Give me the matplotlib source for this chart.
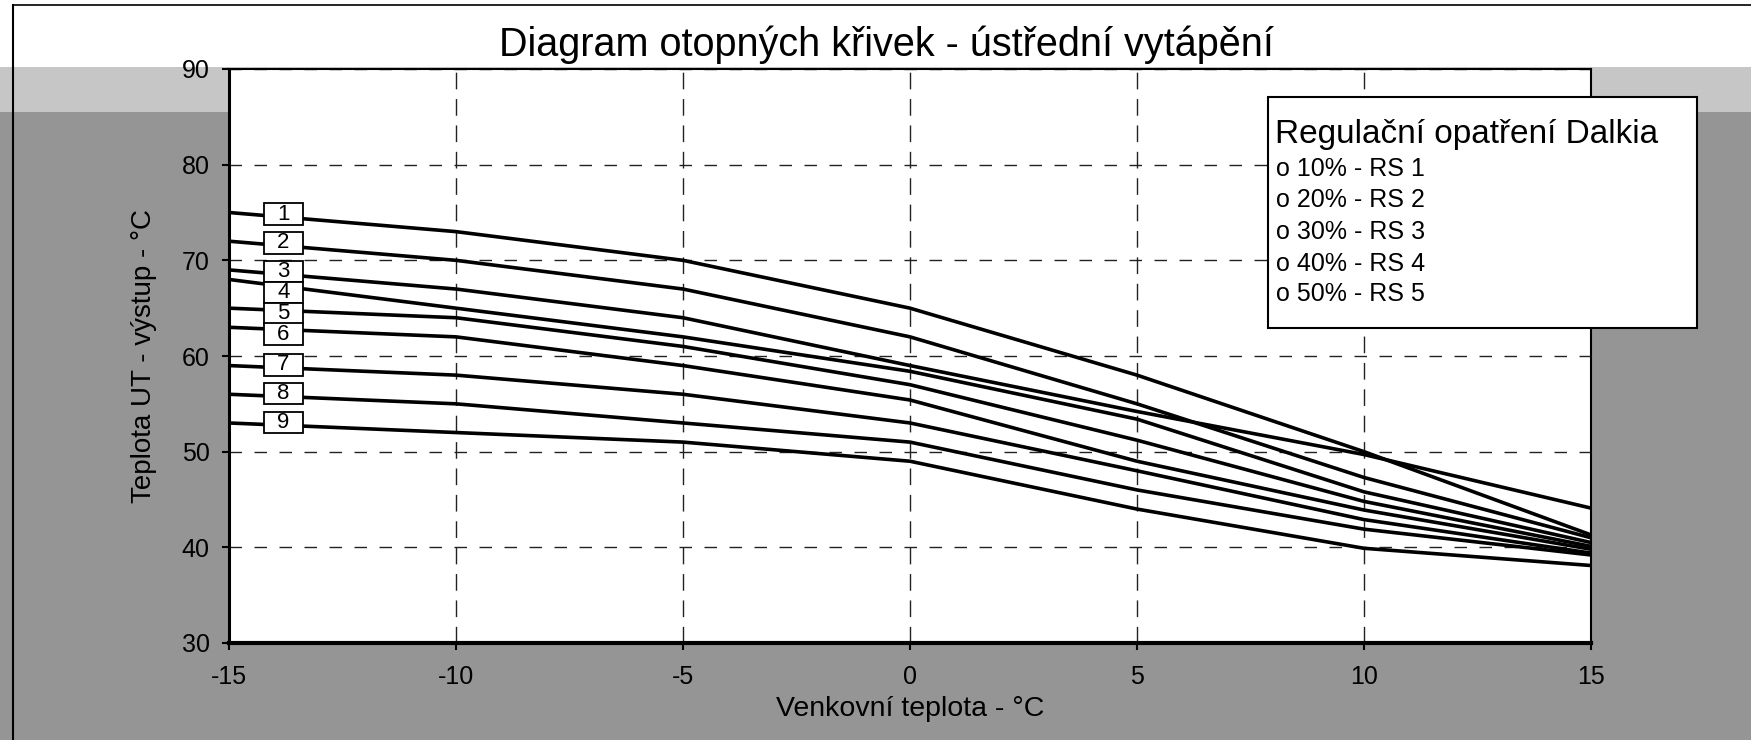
import numpy as np
import matplotlib
matplotlib.use('Agg')
import matplotlib.pyplot as plt
from matplotlib.patches import Rectangle

plt.rcParams['font.family'] = ['Liberation Sans', 'DejaVu Sans']
plt.rcParams['axes.unicode_minus'] = False

# outdoor temperature (x) and supply temperature for each curve
temp = [-15, -10, -5, 0, 5, 10, 15]
rs_1 = [75, 73, 70, 65, 58.0, 50.0, 41.3]
rs_2 = [72, 70, 67, 62, 55.0, 47.3, 41.0]
rs_3 = [69, 67, 64, 59, 54.2, 49.7, 44.1]
rs_4 = [68, 65, 62, 58.4, 53.4, 45.8, 40.5]
rs_5 = [65, 64, 61, 57, 51.2, 44.8, 40.1]
rs_6 = [63, 62, 59, 55.4, 49.0, 43.9, 39.8]
rs_7 = [59, 58, 56, 53, 48.0, 42.9, 39.4]
rs_8 = [56, 55, 53, 51, 46.0, 41.9, 39.2]
rs_9 = [53, 52, 51, 49, 44.0, 39.9, 38.1]
curves = [rs_1, rs_2, rs_3, rs_4, rs_5, rs_6, rs_7, rs_8, rs_9]
curve_labels = ['1', '2', '3', '4', '5', '6', '7', '8', '9']

x_ticks = [-15, -10, -5, 0, 5, 10, 15]
y_ticks = [30, 40, 50, 60, 70, 80, 90]

title = 'Diagram otopných křivek - ústřední vytápění'
x_label = 'Venkovní teplota - °C'
y_label = 'Teplota UT - výstup - °C'
legend_title = 'Regulační opatření Dalkia'
legend_items = ['o 10% - RS 1', 'o 20% - RS 2', 'o 30% - RS 3',
                'o 40% - RS 4', 'o 50% - RS 5']

W, H = 1751, 740
fig = plt.figure(figsize=(W / 100, H / 100), dpi=100, facecolor='#959595')

# scanned page: white strip on top, lighter band under it, frame lines
fig.add_artist(Rectangle((0, 1 - 67 / H), 1, 67 / H, transform=fig.transFigure,
                         facecolor='white', edgecolor='none', zorder=-10))
fig.add_artist(Rectangle((0, 1 - 112 / H), 1, 45 / H, transform=fig.transFigure,
                         facecolor='#c6c6c6', edgecolor='none', zorder=-10))
fig.add_artist(plt.Line2D([13 / W, 13 / W], [0, 1 - 5 / H], transform=fig.transFigure,
                          color='black', lw=1.5, zorder=-5))
fig.add_artist(plt.Line2D([13 / W, 1], [1 - 5 / H, 1 - 5 / H], transform=fig.transFigure,
                          color='black', lw=1.2, zorder=-5))

ax = fig.add_axes([229 / W, 1 - 643 / H, (1591 - 229) / W, (643 - 69) / H])
ax.set_facecolor('white')

for vals in curves:
    ax.plot(temp, vals, color='black', lw=2.6, solid_joinstyle='round', zorder=2)

ax.set_xlim(-15, 15)
ax.set_ylim(30, 90)
ax.set_xticks(x_ticks)
ax.set_yticks(y_ticks)
ax.xaxis.grid(True, color='#222222', lw=1.0, linestyle=(0, (12, 7)))
ax.yaxis.grid(True, color='#222222', lw=1.0, linestyle=(0, (9, 9)))
ax.set_axisbelow(True)

ax.spines['left'].set_linewidth(2.2)
ax.spines['bottom'].set_linewidth(3)
ax.spines['top'].set_linewidth(1.5)
ax.spines['right'].set_linewidth(1.5)
ax.tick_params(axis='both', direction='out', length=5, width=1.5, color='black')
ax.tick_params(axis='y', labelsize=18, pad=9)
ax.tick_params(axis='x', labelsize=18, pad=11)

ax.set_xlabel(x_label, fontsize=20.5, labelpad=5)
ax.set_ylabel(y_label, fontsize=20, labelpad=18)

# numbered boxes on the curves near the left edge
label_x = -13.8
box_w, box_h = 0.85, 2.25
label_y = [float(np.interp(label_x, temp, c)) + 0.3 for c in curves]
for i in range(1, len(label_y)):
    label_y[i] = min(label_y[i], label_y[i - 1] - box_h * 0.97)
for lab, y in zip(curve_labels, label_y):
    ax.add_patch(Rectangle((label_x - box_w / 2, y - box_h / 2), box_w, box_h,
                           facecolor='white', edgecolor='black', lw=1.3, zorder=3))
    ax.text(label_x, y, lab, ha='center', va='center', fontsize=16, zorder=4)

fig.text(886 / W, 1 - 45 / H, title, ha='center', va='center', fontsize=28.5)

# text box in the upper right
fig.add_artist(Rectangle((1268 / W, 1 - 328 / H), (1697 - 1268) / W, (328 - 97) / H,
                         transform=fig.transFigure, facecolor='white',
                         edgecolor='black', lw=1.5, zorder=5))
fig.text(1275 / W, 1 - 134 / H, legend_title, ha='left', va='center',
         fontsize=24, zorder=6)
item_y = [169, 200, 232, 264, 294]
for txt, y in zip(legend_items, item_y):
    fig.text(1276 / W, 1 - y / H, txt, ha='left', va='center', fontsize=18, zorder=6)

fig.savefig('out.png', dpi=100, facecolor=fig.get_facecolor())
